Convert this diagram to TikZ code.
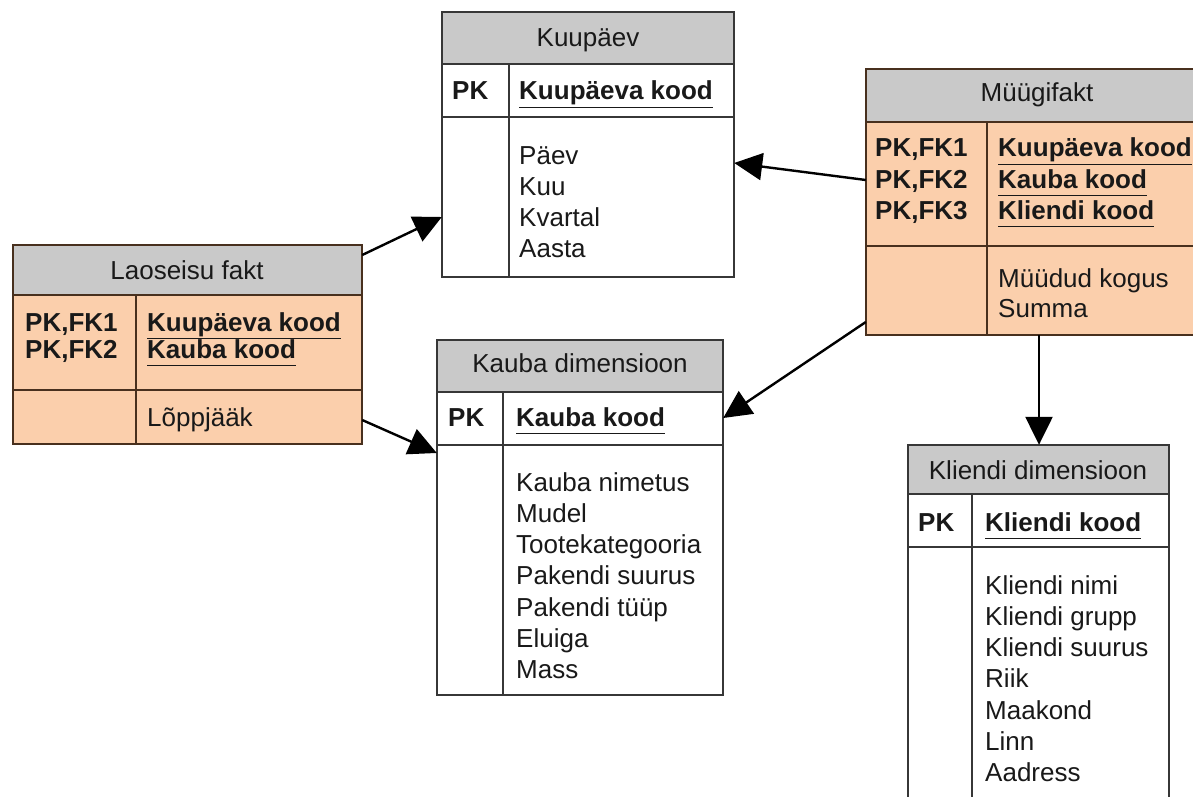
\documentclass[tikz,border=0pt]{standalone}
\usepackage{fontspec}
\setmainfont{Liberation Sans}
\usetikzlibrary{arrows.meta,fit}
\definecolor{hdrgray}{RGB}{201,201,201}
\definecolor{peach}{RGB}{251,207,172}
\definecolor{factline}{RGB}{72,48,30}
\definecolor{dimline}{RGB}{55,55,55}
\definecolor{ink}{RGB}{25,25,25}
% underlined key column name with a uniform underline depth
\newcommand\keyul[1]{\underline{#1\vphantom{p}}}

\begin{document}
\begin{tikzpicture}[x=1pt,y=-1pt,
  tblbox/.style={inner sep=0pt},
  sep/.style={draw=#1, line width=1.6pt},
  frame/.style={draw=#1, line width=1.8pt},
  bodyfont/.style={font=\fontsize{26}{31}\selectfont, text=ink},
  hdrtext/.style={bodyfont, anchor=base, inner sep=0pt},
  keytext/.style={bodyfont, anchor=base west, inner sep=0pt, font=\fontsize{26}{31}\selectfont\bfseries},
  attr/.style={bodyfont, anchor=base west, inner sep=0pt},
  fk/.style={line width=2.4pt, -{Triangle[length=28pt,width=27pt]}, black},
]
\useasboundingbox (0,0) rectangle (1193,797);
\clip (0,0) rectangle (1193,797);

% ---------------- Kuupäev ----------------
\node[tblbox, fit={(442,12) (734,277)}] (kuu) {};
\fill[white] (kuu.north west) rectangle (kuu.south east);
\fill[hdrgray] (kuu.north west) rectangle (kuu.east |- 0,64);
\draw[sep=dimline] (kuu.west |- 0,64) -- (kuu.east |- 0,64);
\draw[sep=dimline] (kuu.west |- 0,117) -- (kuu.east |- 0,117);
\draw[sep=dimline] (509,64) -- (kuu.south -| 509,0);
\draw[frame=dimline] (kuu.north west) rectangle (kuu.south east);
\node[hdrtext] (kuu-h) at (588,47) {Kuupäev};
\node[keytext] (kuu-pk) at (452,100) {PK};
\node[keytext] (kuu-k) at (519,100) {\keyul{Kuupäeva kood}};
\foreach \t [count=\i] in {Päev,Kuu,Kvartal,Aasta}
  \node[attr] (kuu-a\i) at (519,{164+(\i-1)*31}) {\t};

% ---------------- Müügifakt ----------------
\node[tblbox, fit={(866,69) (1208,335)}] (mf) {};
\fill[peach] (mf.north west) rectangle (mf.south east);
\fill[hdrgray] (mf.north west) rectangle (mf.east |- 0,122);
\draw[sep=factline] (mf.west |- 0,122) -- (mf.east |- 0,122);
\draw[sep=factline] (mf.west |- 0,246) -- (mf.east |- 0,246);
\draw[sep=factline] (987,122) -- (mf.south -| 987,0);
\draw[frame=factline] (mf.north west) rectangle (mf.south east);
\node[hdrtext] (mf-h) at (1037,102) {Müügifakt};
\foreach \k/\n [count=\i] in {PK{,}FK1/Kuupäeva kood,PK{,}FK2/Kauba kood,PK{,}FK3/Kliendi kood}{
  \node[keytext] (mf-pk\i) at (875,{157+(\i-1)*31}) {\k};
  \node[keytext] (mf-k\i) at (998,{157+(\i-1)*31}) {\keyul{\n}};
}
\node[attr] (mf-a1) at (998,287) {Müüdud kogus};
\node[attr] (mf-a2) at (998,317) {Summa};

% ---------------- Laoseisu fakt ----------------
\node[tblbox, fit={(13,245) (362,444)}] (lao) {};
\fill[peach] (lao.north west) rectangle (lao.south east);
\fill[hdrgray] (lao.north west) rectangle (lao.east |- 0,295);
\draw[sep=factline] (lao.west |- 0,295) -- (lao.east |- 0,295);
\draw[sep=factline] (lao.west |- 0,390) -- (lao.east |- 0,390);
\draw[sep=factline] (136,295) -- (lao.south -| 136,0);
\draw[frame=factline] (lao.north west) rectangle (lao.south east);
\node[hdrtext] (lao-h) at (187,279) {Laoseisu fakt};
\node[keytext] (lao-pk1) at (25,331) {PK,FK1};
\node[keytext] (lao-pk2) at (25,358) {PK,FK2};
\node[keytext] (lao-k1) at (147,331) {\keyul{Kuupäeva kood}};
\node[keytext] (lao-k2) at (147,358) {\keyul{Kauba kood}};
\node[attr] (lao-a1) at (147,426) {Lõppjääk};

% ---------------- Kauba dimensioon ----------------
\node[tblbox, fit={(437,340) (723,695)}] (kd) {};
\fill[white] (kd.north west) rectangle (kd.south east);
\fill[hdrgray] (kd.north west) rectangle (kd.east |- 0,392);
\draw[sep=dimline] (kd.west |- 0,392) -- (kd.east |- 0,392);
\draw[sep=dimline] (kd.west |- 0,445) -- (kd.east |- 0,445);
\draw[sep=dimline] (503,392) -- (kd.south -| 503,0);
\draw[frame=dimline] (kd.north west) rectangle (kd.south east);
\node[hdrtext] (kd-h) at (580,372) {Kauba dimensioon};
\node[keytext] (kd-pk) at (448,426) {PK};
\node[keytext] (kd-k) at (516,426) {\keyul{Kauba kood}};
\foreach \t [count=\i] in {Kauba nimetus,Mudel,Tootekategooria,Pakendi suurus,Pakendi tüüp,Eluiga,Mass}
  \node[attr] (kd-a\i) at (516,{491+(\i-1)*31.3}) {\t};

% ---------------- Kliendi dimensioon ----------------
\node[tblbox, fit={(908,445) (1169,830)}] (kl) {};
\fill[white] (kl.north west) rectangle (kl.south east);
\fill[hdrgray] (kl.north west) rectangle (kl.east |- 0,494);
\draw[sep=dimline] (kl.west |- 0,494) -- (kl.east |- 0,494);
\draw[sep=dimline] (kl.west |- 0,547) -- (kl.east |- 0,547);
\draw[sep=dimline] (972,494) -- (kl.south -| 972,0);
\draw[frame=dimline] (kl.north west) rectangle (kl.south east);
\node[hdrtext] (kl-h) at (1038,479) {Kliendi dimensioon};
\node[keytext] (kl-pk) at (918,531) {PK};
\node[keytext] (kl-k) at (985,531) {\keyul{Kliendi kood}};
\foreach \t [count=\i] in {Kliendi nimi,Kliendi grupp,Kliendi suurus,Riik,Maakond,Linn,Aadress}
  \node[attr] (kl-a\i) at (985,{594+(\i-1)*31.3}) {\t};

% ---------------- foreign key references ----------------
\draw[fk] (lao.east |- 0,255) -- (kuu.west |- 0,217);
\draw[fk] (lao.east |- 0,420) -- (kd.west |- 0,453);
\draw[fk] (mf.west |- 0,180) -- (kuu.east |- 0,163);
\draw[fk] (mf.west |- 0,322) -- (kd.east |- 0,418);
\draw[fk] (mf.south -| 1039,0) -- (kl.north -| 1039,0);
\end{tikzpicture}
\end{document}
